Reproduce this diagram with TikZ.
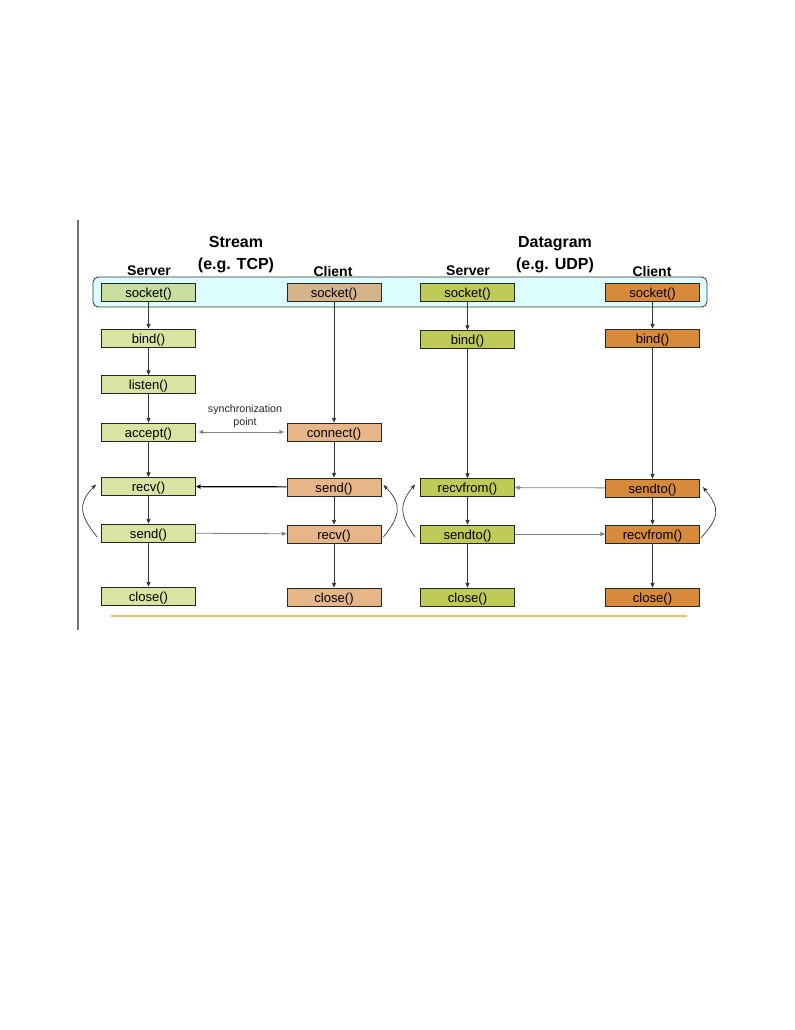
\documentclass[tikz,border=0pt]{standalone}
\usepackage{fontspec}
\setmainfont{Liberation Sans}
\usetikzlibrary{arrows.meta}
\definecolor{srvA}{HTML}{D8E4A2}
\definecolor{sockAcol}{HTML}{C8DE9E}
\definecolor{cliB}{HTML}{E6B688}
\definecolor{sockBcol}{HTML}{D5B48C}
\definecolor{srvC}{HTML}{BFCB57}
\definecolor{cliD}{HTML}{D88A3B}
\definecolor{bandcol}{HTML}{DCFEFE}
\definecolor{goldline}{HTML}{E2C262}
\begin{document}
\begin{tikzpicture}[x=0.75pt, y=-0.75pt,
  block/.style={rectangle, draw=black!85, line width=0.6pt, fill=#1, minimum height=13.5pt,
                minimum width=70.5pt, inner sep=0pt, text height=8pt, text depth=0.4pt,
                font=\fontsize{9.8}{11}\selectfont},
  block/.default={srvA},
  head/.style={font=\bfseries\fontsize{12}{16.5}\selectfont, align=center},
  role/.style={font=\bfseries\fontsize{10.5}{12}\selectfont},
  arr/.style={-{Triangle[length=3.5pt,width=3pt]}, line width=0.6pt, black!80},
  msg/.style={-{Triangle[length=3.5pt,width=3pt]}, line width=0.6pt, black!50},
  loopy/.style={-{Stealth[length=4pt,width=3pt]}, line width=0.5pt, black!80}
]
  \useasboundingbox (0,0) rectangle (794,1030);

  % frame lines
  \draw[black!55, line width=1.5pt] (78,220) -- (78,630);
  \draw[goldline, line width=1.5pt] (111,616) -- (687,616);

  % headings
  \node[head] (tcp) at (236,254.5) {Stream\\(e.g. TCP)};
  \node[head] (udp) at (555,254.5) {Datagram\\(e.g. UDP)};
  \node[role] (srvAlbl) at (149,271) {Server};
  \node[role] (cliBlbl) at (333,271) {Client};
  \node[role] (srvClbl) at (468,271) {Server};
  \node[role] (cliDlbl) at (652,271) {Client};

  \node[draw=black!80, line width=0.6pt, fill=bandcol, rounded corners=4pt,
        minimum width=460.5pt, minimum height=22.5pt] (band) at (400,292) {};

  % stream server
  \node[block=sockAcol] (sockA) at (148.5,292) {socket()};
  \node[block] (bindA) at (148.5,338) {bind()};
  \node[block] (listenA) at (148.5,384.5) {listen()};
  \node[block] (acceptA) at (148.5,432) {accept()};
  \node[block] (recvA) at (148.5,486.5) {recv()};
  \node[block] (sendA) at (148.5,533) {send()};
  \node[block] (closeA) at (148.5,596) {close()};

  % stream client
  \node[block=sockBcol] (sockB) at (334,292) {socket()};
  \node[block=cliB] (connectB) at (334,432) {connect()};
  \node[block=cliB] (sendB) at (334,487) {send()};
  \node[block=cliB] (recvB) at (334,534) {recv()};
  \node[block=cliB] (closeB) at (334,597) {close()};

  % datagram server
  \node[block=srvC] (sockC) at (467.5,292) {socket()};
  \node[block=srvC] (bindC) at (467.5,339.5) {bind()};
  \node[block=srvC] (recvfromC) at (467.5,487.5) {recvfrom()};
  \node[block=srvC] (sendtoC) at (467.5,534) {sendto()};
  \node[block=srvC] (closeC) at (467.5,597) {close()};

  % datagram client
  \node[block=cliD] (sockD) at (652.5,292) {socket()};
  \node[block=cliD] (bindD) at (652.5,338) {bind()};
  \node[block=cliD] (sendtoD) at (652.5,488) {sendto()};
  \node[block=cliD] (recvfromD) at (652.5,534) {recvfrom()};
  \node[block=cliD] (closeD) at (652.5,597) {close()};

  \draw[arr] (sockA) -- (bindA);
  \draw[arr] (bindA) -- (listenA);
  \draw[arr] (listenA) -- (acceptA);
  \draw[arr] (acceptA) -- (recvA);
  \draw[arr] (recvA) -- (sendA);
  \draw[arr] (sendA) -- (closeA);

  \draw[arr] (sockB) -- (connectB);
  \draw[arr] (connectB) -- (sendB);
  \draw[arr] (sendB) -- (recvB);
  \draw[arr] (recvB) -- (closeB);

  \draw[arr] (sockC) -- (bindC);
  \draw[arr] (bindC) -- (recvfromC);
  \draw[arr] (recvfromC) -- (sendtoC);
  \draw[arr] (sendtoC) -- (closeC);

  \draw[arr] (sockD) -- (bindD);
  \draw[arr] (bindD) -- (sendtoD);
  \draw[arr] (sendtoD) -- (recvfromD);
  \draw[arr] (recvfromD) -- (closeD);

  % messages
  \draw[msg, {Triangle[length=3.5pt,width=3pt]}-{Triangle[length=3.5pt,width=3pt]}]
    ([xshift=2pt]acceptA.east) -- ([xshift=-2pt]connectB.west);
  \node[font=\fontsize{8}{9.75}\selectfont, align=center, black!85] (sync) at (245,416.5)
    {synchronization\\point};
  \draw[arr, black, line width=0.9pt] (sendB) -- (recvA);
  \draw[msg] (sendA) -- (recvB);
  \draw[msg] (sendtoD) -- (recvfromC);
  \draw[msg] (sendtoC) -- (recvfromD);

  % loops
  \draw[loopy] ([shift={(-4,4)}]sendA.west) .. controls +(-16,-20) and +(-20,20) .. ([shift={(-5,-2)}]recvA.west);
  \draw[loopy] ([shift={(2,3)}]recvB.east) .. controls +(16,-20) and +(20,20) .. ([shift={(2,-2)}]sendB.east);
  \draw[loopy] ([shift={(-5,3)}]sendtoC.west) .. controls +(-15,-20) and +(-17,20) .. ([shift={(-5,-3)}]recvfromC.west);
  \draw[loopy] ([shift={(1,4)}]recvfromD.east) .. controls +(18,-20) and +(18,22) .. ([shift={(3,-1)}]sendtoD.east);
\end{tikzpicture}
\end{document}
